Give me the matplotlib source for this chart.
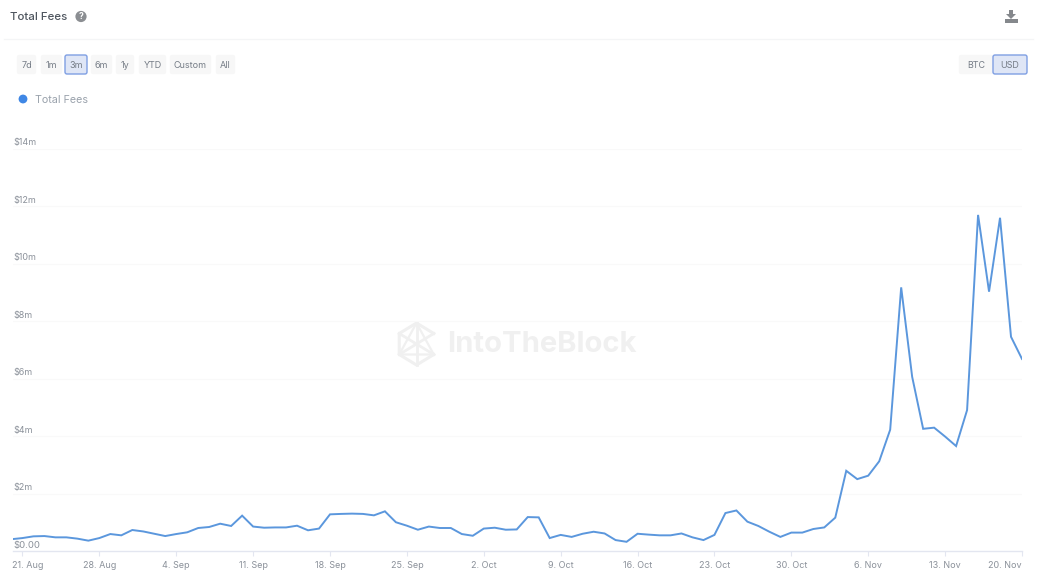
import numpy as np
import pandas as pd
import matplotlib
matplotlib.use("Agg")
import matplotlib.pyplot as plt
import matplotlib.dates as mdates
from matplotlib.patches import FancyBboxPatch, Circle, Polygon, Rectangle
from matplotlib.transforms import blended_transform_factory, ScaledTranslation

plt.rcParams['font.family'] = ['Inter', 'DejaVu Sans']

# ---- data ----
start_date = "2023-08-20"
total_fees_m = [
    0.41, 0.45, 0.51, 0.52, 0.475, 0.475, 0.43, 0.36, 0.45, 0.59,
    0.545, 0.73, 0.68, 0.60, 0.52, 0.59, 0.65, 0.80, 0.835, 0.95,
    0.87, 1.23, 0.85, 0.81, 0.82, 0.82, 0.88, 0.72, 0.78, 1.275,
    1.29, 1.30, 1.29, 1.24, 1.38, 1.00, 0.88, 0.74, 0.85, 0.80,
    0.80, 0.59, 0.53, 0.78, 0.81, 0.74, 0.75, 1.18, 1.17, 0.45,
    0.56, 0.49, 0.60, 0.67, 0.61, 0.38, 0.32, 0.60, 0.57, 0.545,
    0.545, 0.61, 0.475, 0.38, 0.56, 1.32, 1.41, 1.02, 0.87, 0.67,
    0.49, 0.64, 0.64, 0.765, 0.82, 1.16, 2.79, 2.50, 2.62, 3.12,
    4.22, 9.17, 6.06, 4.25, 4.29, 3.98, 3.65, 4.90, 11.69, 9.02,
    11.59, 7.45, 6.68,
]
y_ticks = [2, 4, 6, 8, 10, 12, 14]
y_labels = ["$2m", "$4m", "$6m", "$8m", "$10m", "$12m", "$14m"]
zero_label = "$0.00"
x_tick_dates = ["2023-08-21", "2023-08-28", "2023-09-04", "2023-09-11", "2023-09-18",
                "2023-09-25", "2023-10-02", "2023-10-09", "2023-10-16", "2023-10-23",
                "2023-10-30", "2023-11-06", "2023-11-13", "2023-11-20"]
x_tick_labels = ["21. Aug", "28. Aug", "4. Sep", "11. Sep", "18. Sep", "25. Sep", "2. Oct",
                 "9. Oct", "16. Oct", "23. Oct", "30. Oct", "6. Nov", "13. Nov", "20. Nov"]
range_buttons = ["7d", "1m", "3m", "6m", "1y", "YTD", "Custom", "All"]
unit_buttons = ["BTC", "USD"]
series_name = "Total Fees"
title = "Total Fees"
watermark = "IntoTheBlock"

W, H = 1047, 577
px = lambda p: p * 72 / 100  # pixels to points
fig = plt.figure(figsize=(W / 100, H / 100), dpi=100, facecolor="white")

# pixel-coordinate layer for the page furniture
bg = fig.add_axes([0, 0, 1, 1], zorder=0)
bg.set_xlim(0, W)
bg.set_ylim(H, 0)
bg.axis("off")

# title and header
bg.text(10, 17, title, fontsize=px(11.5), color="#4f565f", fontweight="medium", va="center")
bg.add_patch(Circle((81, 16.5), 5.6, color="#8b8e92", lw=0))
bg.text(81, 16.7, "?", fontsize=px(8.5), color="white", fontweight="bold", ha="center", va="center")
bg.plot([4, 1033], [39, 39], color="#f4f5f6", lw=0.9)

# download icon
bg.add_patch(Polygon([(1009, 10), (1013, 10), (1013, 14), (1016, 14), (1011, 19), (1006, 14), (1009, 14)],
                     color="#85888c", lw=0))
bg.add_patch(Rectangle((1005, 18.5), 12.5, 4, color="#85888c", lw=0))


def button(x0, x1, label, active=False, y0=55, y1=74):
    face = "#dfe6f6" if active else "#f7f7f7"
    edge = "#7f9fe3" if active else "#f7f7f7"
    bg.add_patch(FancyBboxPatch((x0 + 1, y0 + 1), x1 - x0 - 2, y1 - y0 - 2,
                                boxstyle="round,pad=1,rounding_size=2", fc=face, ec=edge,
                                lw=1.0 if active else 0.2))
    bg.text((x0 + x1) / 2, (y0 + y1) / 2 + 1.1, label, fontsize=px(9), ha="center", va="center",
            color="#757c86")


range_spans = [(17, 36), (41, 62), (65, 87), (91, 112), (116, 134), (139, 166), (170, 211), (216, 235)]
for (a, b), lab in zip(range_spans, range_buttons):
    button(a, b, lab, active=(lab == "3m"))
for (a, b), lab in zip([(959, 993), (993, 1027)], unit_buttons):
    button(a, b, lab, active=(lab == "USD"))

# legend
bg.add_patch(Circle((23, 99), 4.4, color="#3f87e5", lw=0))
bg.text(35, 99.8, series_name, fontsize=px(10.8), color="#9aa2ac", va="center")

# watermark
hex_c = (416.5, 344)
hex_r = 21
wm = "#f0f0f0"
angles = np.deg2rad(np.arange(30, 390, 60))
hx = hex_c[0] + hex_r * np.cos(angles) * 0.95
hy = hex_c[1] + hex_r * np.sin(angles)
bg.plot(hx, hy, color=wm, lw=2.2)
for i in range(3):
    bg.plot([hx[i], hx[i + 3]], [hy[i], hy[i + 3]], color=wm, lw=2.0)
bg.plot([hx[0], hx[2], hx[4], hx[0]], [hy[0], hy[2], hy[4], hy[0]], color=wm, lw=1.6)
bg.text(447, 345, watermark, fontsize=px(29.2), fontweight="bold", color=wm, va="center", ha="left")

# main chart
left, right, top, bottom = 13, 1022, 148.5, 551
ax = fig.add_axes([left / W, 1 - bottom / H, (right - left) / W, (bottom - top) / H], zorder=2)
ax.patch.set_alpha(0)
dates = pd.date_range(start_date, periods=len(total_fees_m), freq="D")
ax.plot(dates, total_fees_m, color="#5b97dd", lw=1.4, solid_joinstyle="miter", zorder=3)
d0 = mdates.date2num(pd.Timestamp(start_date))
ax.set_xlim(d0 + 0.14, mdates.date2num(pd.Timestamp(x_tick_dates[-1])))
ax.set_ylim(0, 14)

for s in ["top", "left", "right"]:
    ax.spines[s].set_visible(False)
ax.spines["bottom"].set_color("#e3e6f0")
ax.spines["bottom"].set_linewidth(1.0)

ax.set_yticks(y_ticks)
ax.set_yticklabels([])
ax.tick_params(axis="y", length=0)
ax.grid(axis="y", color="#f9f9f9", lw=0.8)
ax.set_axisbelow(True)

ax.set_xticks(mdates.date2num(pd.to_datetime(x_tick_dates)))
ax.set_xticklabels(x_tick_labels, fontsize=px(9), color="#8b919a")
ax.tick_params(axis="x", length=px(5), width=0.8, color="#e3e6f0", pad=px(5))
tl = ax.get_xticklabels()
tl[-1].set_ha("right")
tl[0].set_ha("center")
tl[0].set_transform(tl[0].get_transform() + ScaledTranslation(5 / 100, 0, fig.dpi_scale_trans))

tr = blended_transform_factory(ax.transAxes, ax.transData) + ScaledTranslation(0, 5.6 / 100, fig.dpi_scale_trans)
for v, lab in zip(y_ticks, y_labels):
    ax.text(0, v, lab, transform=tr, fontsize=px(9), color="#8b919a", va="center", ha="left")
ax.text(0, 0, zero_label, transform=tr, fontsize=px(9.5), color="#8b919a", va="center", ha="left")

fig.savefig("out.png", dpi=100, facecolor="white")
